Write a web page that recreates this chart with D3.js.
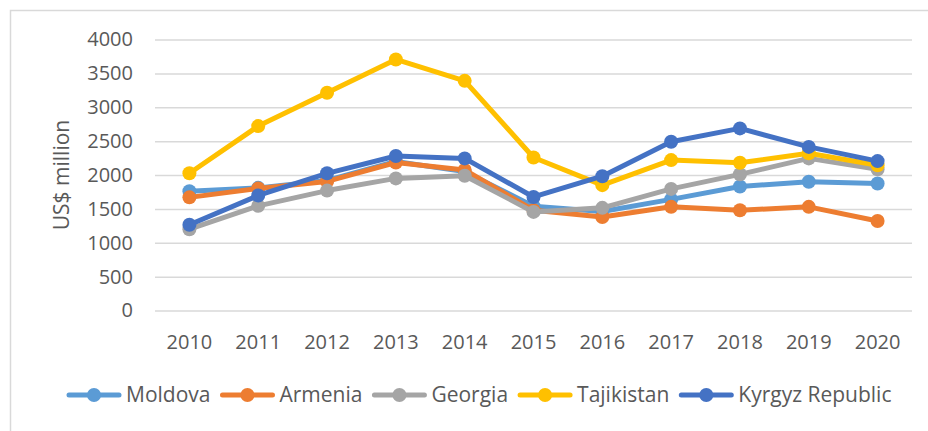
<!DOCTYPE html>
<html>
<head>
<meta charset="utf-8">
<script src="https://cdn.jsdelivr.net/npm/d3@7"></script>
<style>
  body { margin: 0; background: #fff; }
  svg { display: block; font-family: "Open Sans", sans-serif; }
</style>
</head>
<body>
<svg id="chart"></svg>
<script>
// Années et valeurs (US$ million)
const years = [2010, 2011, 2012, 2013, 2014, 2015, 2016, 2017, 2018, 2019, 2020];
const moldova = [1760, 1810, 1920, 2200, 2050, 1540, 1460, 1640, 1830, 1900, 1875];
const armenia = [1670, 1800, 1905, 2185, 2075, 1480, 1380, 1530, 1480, 1530, 1320];
const georgia = [1200, 1545, 1770, 1950, 1990, 1455, 1515, 1795, 2010, 2245, 2085];
const tajikistan = [2025, 2722, 3215, 3705, 3390, 2258, 1850, 2220, 2180, 2320, 2145];
const kyrgyz = [1265, 1698, 2025, 2280, 2245, 1676, 1982, 2490, 2688, 2415, 2205];
const yTicks = [0, 500, 1000, 1500, 2000, 2500, 3000, 3500, 4000];

const seriesNames = ["Moldova", "Armenia", "Georgia", "Tajikistan", "Kyrgyz Republic"];
const seriesValues = [moldova, armenia, georgia, tajikistan, kyrgyz];
const colors = ["#5B9BD5", "#ED7D31", "#A5A5A5", "#FFC000", "#4472C4"];

const width = 928, height = 431;
const margin = { top: 39.5, right: 16, bottom: 120.5, left: 155 };
const textColor = "#595959";

const svg = d3.select("#chart").attr("width", width).attr("height", height);

// cadre du graphique
svg.append("rect")
    .attr("x", 10.5).attr("y", 10.5)
    .attr("width", 940).attr("height", 440)
    .attr("fill", "none").attr("stroke", "#d9d9d9").attr("stroke-width", 1.5);

const x = d3.scaleBand()
    .domain(years)
    .range([margin.left, width - margin.right]);

const y = d3.scaleLinear()
    .domain([0, 4000])
    .range([height - margin.bottom, margin.top]);

// grille horizontale
svg.append("g")
    .attr("transform", `translate(${margin.left},0)`)
    .call(d3.axisLeft(y).tickValues(yTicks).tickSize(-(width - margin.left - margin.right)).tickFormat(""))
    .call(g => g.select(".domain").remove())
    .call(g => g.selectAll("line").attr("stroke", "#d9d9d9").attr("stroke-width", 1.5));

// étiquettes de l'axe Y
svg.append("g")
    .attr("transform", `translate(133,0)`)
    .call(d3.axisLeft(y).tickValues(yTicks).tickSize(0).tickPadding(0).tickFormat(d3.format("d")))
    .call(g => g.select(".domain").remove())
    .call(g => g.selectAll("text")
        .attr("fill", textColor)
        .style("font-size", "20px")
        .style("font-family", "'Open Sans', sans-serif"));

// étiquettes de l'axe X
svg.append("g")
    .attr("transform", `translate(0,${height - margin.bottom})`)
    .call(d3.axisBottom(x).tickSize(0).tickPadding(24))
    .call(g => g.select(".domain").remove())
    .call(g => g.selectAll("text")
        .attr("fill", textColor)
        .style("font-size", "20px")
        .style("font-family", "'Open Sans', sans-serif"));

// titre de l'axe Y
svg.append("text")
    .attr("transform", `translate(62,${(margin.top + height - margin.bottom) / 2}) rotate(-90)`)
    .attr("text-anchor", "middle")
    .attr("dy", "0.35em")
    .attr("fill", textColor)
    .style("font-size", "21px")
    .text("US$ million");

// séries
const line = d3.line()
    .x((d, i) => x(years[i]) + x.bandwidth() / 2)
    .y(d => y(d));

seriesValues.forEach((vals, s) => {
    const g = svg.append("g");
    g.append("path")
        .datum(vals)
        .attr("d", line)
        .attr("fill", "none")
        .attr("stroke", colors[s])
        .attr("stroke-width", 5)
        .attr("stroke-linejoin", "round")
        .attr("stroke-linecap", "round");
    g.selectAll("circle")
        .data(vals)
        .join("circle")
        .attr("cx", (d, i) => x(years[i]) + x.bandwidth() / 2)
        .attr("cy", d => y(d))
        .attr("r", 7)
        .attr("fill", colors[s]);
});

// légende
const legend = svg.append("g").attr("transform", "translate(0,395)");
let lx = 67;
seriesNames.forEach((name, s) => {
    const item = legend.append("g");
    item.append("line")
        .attr("x1", lx + 2).attr("x2", lx + 52)
        .attr("y1", 0).attr("y2", 0)
        .attr("stroke", colors[s]).attr("stroke-width", 5)
        .attr("stroke-linecap", "round");
    item.append("circle")
        .attr("cx", lx + 27).attr("cy", 0).attr("r", 7)
        .attr("fill", colors[s]);
    const t = item.append("text")
        .attr("x", lx + 59)
        .attr("dy", "0.35em")
        .attr("fill", textColor)
        .style("font-size", "21px")
        .text(name);
    lx += 59 + t.node().getComputedTextLength() + 10;
});
</script>
</body>
</html>
